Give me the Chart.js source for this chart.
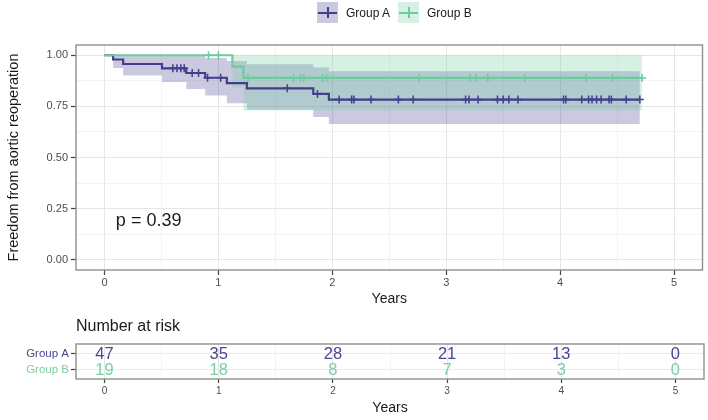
<!DOCTYPE html>
<html><head><meta charset="utf-8">
<script src="https://cdn.jsdelivr.net/npm/chart.js@4.4.1/dist/chart.umd.min.js"></script>
<style>
html,body{margin:0;padding:0;background:#fff;}
#wrap{position:relative;width:708px;height:420px;overflow:hidden;font-family:'Liberation Sans',Arial,Helvetica,sans-serif;}
#c1{position:absolute;left:0;top:0;}
#c2{position:absolute;left:0;top:310px;}
.leg{position:absolute;top:2px;height:21px;display:flex;align-items:center;font-size:12px;color:#1a1a1a;white-space:nowrap;}
.key{position:relative;width:21px;height:21px;margin-right:8px;}
.key:before{content:'';position:absolute;left:1px;right:1px;top:9.5px;height:2px;background:var(--c);}
.key:after{content:'';position:absolute;left:9.5px;top:5px;width:2px;height:11px;background:var(--c);}
</style>
</head><body>
<div id="wrap">
  <canvas id="c1" width="708" height="310"></canvas>
  <canvas id="c2" width="708" height="110"></canvas>
  <div class="leg" id="legA" style="left:317px"><span class="key" id="keyA"></span><span id="txtA"></span></div>
  <div class="leg" id="legB" style="left:398px"><span class="key" id="keyB"></span><span id="txtB"></span></div>
</div>
<script>
// ---------- data ----------
const groupLabels = ['Group A', 'Group B'];
const years = [0, 1, 2, 3, 4, 5];
const riskA = [47, 35, 28, 21, 13, 0];
const riskB = [19, 18, 8, 7, 3, 0];

const timeA  = [0, 0.076, 0.164, 0.505, 0.718, 0.884, 1.074, 1.25, 1.833, 1.97, 4.70];
const survA  = [1, 0.979, 0.957, 0.936, 0.913, 0.890, 0.864, 0.838, 0.811, 0.783, 0.783];
const lowerA = [1, 0.938, 0.901, 0.869, 0.835, 0.803, 0.765, 0.733, 0.698, 0.664, 0.664];
const upperA = [1, 1, 1, 1, 0.998, 0.986, 0.972, 0.956, 0.940, 0.922, 0.922];
const censorA = [0.60, 0.636, 0.67, 0.70, 0.77, 0.826, 0.905, 1.02, 1.605, 1.87, 2.06, 2.17, 2.19,
                 2.34, 2.58, 2.71, 3.17, 3.20, 3.28, 3.45, 3.50, 3.55, 3.63, 4.03, 4.05, 4.19,
                 4.25, 4.28, 4.32, 4.36, 4.43, 4.45, 4.58, 4.70];

const timeB  = [0, 1.123, 1.22, 4.72];
const survB  = [1, 0.944, 0.889, 0.889];
const lowerB = [1, 0.844, 0.73, 0.73];
const upperB = [1, 1, 1, 1];
const censorB = [0.913, 1.0, 1.26, 1.66, 1.72, 1.75, 1.915, 1.95, 2.76, 3.21, 3.26, 3.365, 3.69,
                 4.23, 4.46, 4.72];

const xGridValues = [0, 0.5, 1, 1.5, 2, 2.5, 3, 3.5, 4, 4.5, 5];
const yGridValues = [0, 0.125, 0.25, 0.375, 0.5, 0.625, 0.75, 0.875, 1];
const pValueText = 'p = 0.39';
const yTitle = 'Freedom from aortic reoperation';
const xTitle = 'Years';
const riskTitle = 'Number at risk';

// ---------- styles ----------
const FONT = "'Liberation Sans', Arial, Helvetica, sans-serif";
const colA = '#423D8C', colB = '#6DCB9F';
const txtA = '#4A4590', txtB = '#7ACFA5';
const fillA = 'rgba(66,61,140,0.28)', fillB = 'rgba(109,203,159,0.28)';
Chart.defaults.font.family = FONT;

document.getElementById('txtA').textContent = groupLabels[0];
document.getElementById('txtB').textContent = groupLabels[1];
const kA = document.getElementById('keyA'), kB = document.getElementById('keyB');
kA.style.background = fillA; kA.style.setProperty('--c', colA);
kB.style.background = fillB; kB.style.setProperty('--c', colB);

const pts = (xs, ys) => xs.map((x, i) => ({x: x, y: ys[i]}));
const stepAt = (ts, ss, t) => { let v = ss[0]; for (let i = 0; i < ts.length; i++) { if (ts[i] <= t) v = ss[i]; } return v; };
const isInt = v => Math.abs(v - Math.round(v)) < 1e-9;
const isQuarter = v => Math.abs(v * 4 - Math.round(v * 4)) < 1e-9;

const panelBorder = {
  id: 'panelBorder',
  afterDatasetsDraw(chart) {
    const a = chart.chartArea, c = chart.ctx;
    c.save(); c.strokeStyle = '#8f8f8f'; c.lineWidth = 1.4;
    c.strokeRect(a.left, a.top, a.right - a.left, a.bottom - a.top);
    c.restore();
  }
};
const pValue = {
  id: 'pValue',
  afterDatasetsDraw(chart) {
    const c = chart.ctx, xs = chart.scales.x, ys = chart.scales.y;
    c.save(); c.font = '18px ' + FONT; c.fillStyle = '#1a1a1a';
    c.textAlign = 'left'; c.textBaseline = 'middle';
    c.fillText(pValueText, xs.getPixelForValue(0.1), ys.getPixelForValue(0.19));
    c.restore();
  }
};

function xScale(opts) {
  return {
    type: 'linear', min: -0.25, max: 5.25,
    afterBuildTicks: s => { s.ticks = xGridValues.map(v => ({value: v})); },
    afterFit: s => { s.height = opts.height; },
    ticks: { callback: v => isInt(v) ? String(v) : '', autoSkip: false, maxRotation: 0, minRotation: 0,
             padding: opts.pad, font: {size: opts.tickSize}, color: '#4d4d4d' },
    grid: { color: ctx => isInt(ctx.tick.value) ? '#e6e6e6' : '#f0f0f0',
            lineWidth: ctx => isInt(ctx.tick.value) ? 1 : 0.8,
            tickLength: opts.tickLen, tickColor: ctx => isInt(ctx.tick.value) ? '#444' : 'rgba(0,0,0,0)', tickWidth: 1.2 },
    border: { display: false },
    title: { display: true, text: xTitle, font: {size: 14}, color: '#1a1a1a', padding: {top: 0, bottom: opts.titlePad} }
  };
}

// ---------- main chart ----------
new Chart(document.getElementById('c1'), {
  type: 'line',
  data: { datasets: [
    { label: 'A upper', data: pts(timeA, upperA), borderWidth: 0, pointRadius: 0, fill: false, stepped: true, order: 10 },
    { label: 'A lower', data: pts(timeA, lowerA), borderWidth: 0, pointRadius: 0, fill: '-1', backgroundColor: fillA, stepped: true, order: 10 },
    { label: 'B upper', data: pts(timeB, upperB), borderWidth: 0, pointRadius: 0, fill: false, stepped: true, order: 9 },
    { label: 'B lower', data: pts(timeB, lowerB), borderWidth: 0, pointRadius: 0, fill: '-1', backgroundColor: fillB, stepped: true, order: 9 },
    { label: groupLabels[0], data: pts(timeA, survA), borderColor: colA, borderWidth: 2.2, pointRadius: 0, fill: false, stepped: true, order: 4 },
    { label: groupLabels[1], data: pts(timeB, survB), borderColor: colB, borderWidth: 2.2, pointRadius: 0, fill: false, stepped: true, order: 3 },
    { label: 'A censor', data: censorA.map(t => ({x: t, y: stepAt(timeA, survA, t)})), showLine: false,
      pointStyle: 'cross', pointRadius: 4, pointBorderColor: colA, pointBorderWidth: 1.5, borderColor: colA, order: 2 },
    { label: 'B censor', data: censorB.map(t => ({x: t, y: stepAt(timeB, survB, t)})), showLine: false,
      pointStyle: 'cross', pointRadius: 4, pointBorderColor: colB, pointBorderWidth: 1.5, borderColor: colB, order: 1 }
  ]},
  options: {
    responsive: false, animation: false, events: [],
    layout: { padding: { top: 45, right: 3, left: 0, bottom: 0 } },
    plugins: { legend: { display: false }, tooltip: { enabled: false } },
    scales: {
      x: xScale({height: 40, pad: 1, tickSize: 11, tickLen: 5, titlePad: 2}),
      y: {
        type: 'linear', min: -0.05, max: 1.05,
        afterBuildTicks: s => { s.ticks = yGridValues.map(v => ({value: v})); },
        afterFit: s => { s.width = 76; },
        ticks: { callback: v => isQuarter(v) ? v.toFixed(2) : '', autoSkip: false, padding: 3,
                 font: {size: 11}, color: '#4d4d4d' },
        grid: { color: ctx => isQuarter(ctx.tick.value) ? '#e6e6e6' : '#f0f0f0',
                lineWidth: ctx => isQuarter(ctx.tick.value) ? 1 : 0.8,
                tickLength: 5, tickColor: ctx => isQuarter(ctx.tick.value) ? '#444' : 'rgba(0,0,0,0)', tickWidth: 1.2 },
        border: { display: false },
        title: { display: true, text: yTitle, font: {size: 14.5}, color: '#1a1a1a', padding: {top: 5, bottom: 0} }
      }
    }
  },
  plugins: [panelBorder, pValue]
});

// ---------- risk table ----------
const riskText = {
  id: 'riskText',
  afterDatasetsDraw(chart) {
    const c = chart.ctx;
    const sets = [[0, riskA, txtA], [1, riskB, txtB]];
    c.save(); c.font = '16.5px ' + FONT; c.textAlign = 'center'; c.textBaseline = 'middle';
    sets.forEach(([di, vals, col]) => {
      const meta = chart.getDatasetMeta(di);
      c.fillStyle = col;
      meta.data.forEach((el, i) => c.fillText(String(vals[i]), el.x, el.y + 1));
    });
    c.restore();
  }
};

new Chart(document.getElementById('c2'), {
  type: 'line',
  data: { datasets: [
    { label: groupLabels[0], data: years.map(x => ({x: x, y: 2})), showLine: false, pointRadius: 0 },
    { label: groupLabels[1], data: years.map(x => ({x: x, y: 1})), showLine: false, pointRadius: 0 }
  ]},
  options: {
    responsive: false, animation: false, events: [],
    layout: { padding: { top: 0, right: 4, left: 0, bottom: 0 } },
    plugins: {
      legend: { display: false }, tooltip: { enabled: false },
      title: { display: true, text: riskTitle, align: 'start', fullSize: false, color: '#1a1a1a',
               font: {size: 16, weight: 'normal'}, padding: {top: 7.4, bottom: 7.4} }
    },
    scales: {
      x: xScale({height: 41, pad: 2, tickSize: 10, tickLen: 4, titlePad: 3}),
      y: {
        type: 'linear', min: 0.4, max: 2.6,
        afterBuildTicks: s => { s.ticks = [1, 2].map(v => ({value: v})); },
        afterFit: s => { s.width = 76; },
        ticks: { callback: v => v === 2 ? groupLabels[0] : groupLabels[1], autoSkip: false, padding: 2,
                 font: {size: 11.5}, color: ctx => ctx.tick.value === 2 ? txtA : txtB },
        grid: { color: '#ececec', lineWidth: 1, tickLength: 5, tickColor: '#444', tickWidth: 1.2 },
        border: { display: false }
      }
    }
  },
  plugins: [panelBorder, riskText]
});
</script>
</body></html>
